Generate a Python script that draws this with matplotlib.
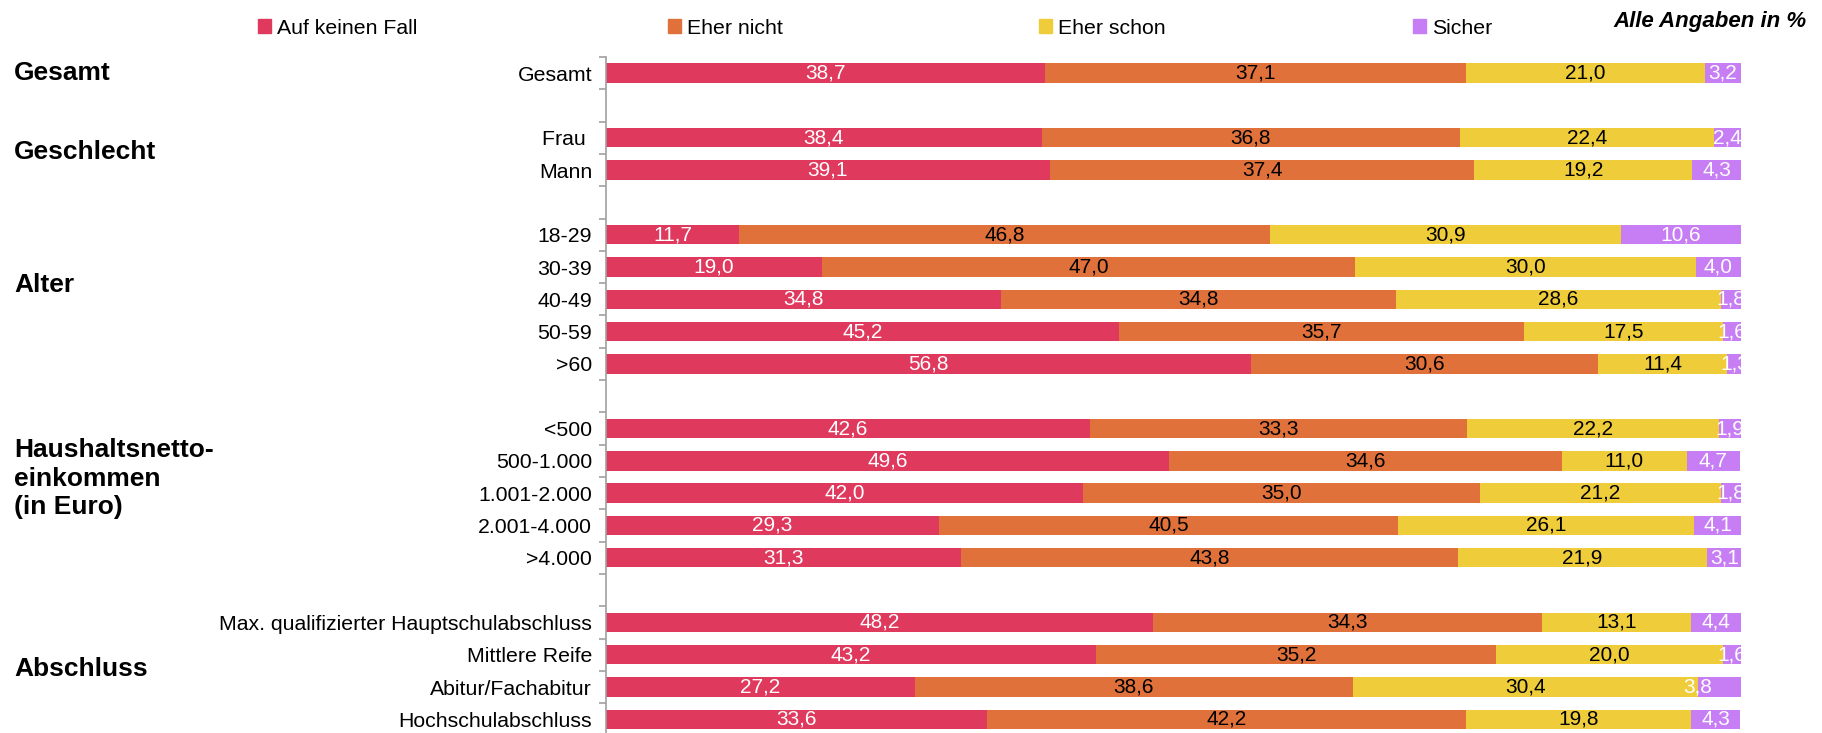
import numpy as np
import matplotlib.pyplot as plt
from matplotlib.patches import Patch
from matplotlib.ticker import FixedLocator
from matplotlib.transforms import blended_transform_factory

plt.rcParams['font.family'] = ['Liberation Sans', 'DejaVu Sans']

# categories (None = empty spacer row)
rows = ['Gesamt', None, 'Frau ', 'Mann', None,
        '18-29', '30-39', '40-49', '50-59', '>60', None,
        '<500', '500-1.000', '1.001-2.000', '2.001-4.000', '>4.000', None,
        'Max. qualifizierter Hauptschulabschluss', 'Mittlere Reife',
        'Abitur/Fachabitur', 'Hochschulabschluss']

series = ['Auf keinen Fall', 'Eher nicht', 'Eher schon', 'Sicher']
colors = ['#E0395E', '#E0713A', '#EFCD3A', '#C77DF3']
text_colors = ['white', 'black', 'black', 'white']

auf_keinen_fall = [38.7, 38.4, 39.1, 11.7, 19.0, 34.8, 45.2, 56.8,
                   42.6, 49.6, 42.0, 29.3, 31.3, 48.2, 43.2, 27.2, 33.6]
eher_nicht = [37.1, 36.8, 37.4, 46.8, 47.0, 34.8, 35.7, 30.6,
              33.3, 34.6, 35.0, 40.5, 43.8, 34.3, 35.2, 38.6, 42.2]
eher_schon = [21.0, 22.4, 19.2, 30.9, 30.0, 28.6, 17.5, 11.4,
              22.2, 11.0, 21.2, 26.1, 21.9, 13.1, 20.0, 30.4, 19.8]
sicher = [3.2, 2.4, 4.3, 10.6, 4.0, 1.8, 1.6, 1.3,
          1.9, 4.7, 1.8, 4.1, 3.1, 4.4, 1.6, 3.8, 4.3]

groups = ['Gesamt', 'Geschlecht', 'Alter', 'Haushaltsnetto-\neinkommen\n(in Euro)', 'Abschluss']
group_pos = [0, 2.45, 6.55, 12.55, 18.45]

values = np.array([auf_keinen_fall, eher_nicht, eher_schon, sicher])
ypos = [i for i, r in enumerate(rows) if r is not None]
labels = [r for r in rows if r is not None]

W, H = 1822, 733
fig = plt.figure(figsize=(W / 100, H / 100), dpi=100)
ax = fig.add_axes([606 / W, -2.5 / H, 1135 / W, 678.5 / H])

left = np.zeros(len(ypos))
for k in range(4):
    ax.barh(ypos, values[k], left=left, height=0.6, color=colors[k],
            edgecolor='none')
    for j, (y, v) in enumerate(zip(ypos, values[k])):
        x = left[j] + v / 2
        # label of Abitur "Sicher" sits at the segment start in the original
        if k == 3 and labels[j] == 'Abitur/Fachabitur':
            x = left[j]
        ax.text(x, y, f'{v:.1f}'.replace('.', ','), ha='center', va='center',
                color=text_colors[k], fontsize=15, clip_on=True)
    left += values[k]

ax.set_xlim(0, 100)
ax.set_ylim(len(rows) - 0.5, -0.5)
ax.set_yticks(ypos)
ax.set_yticklabels(labels, fontsize=15.3)
ax.tick_params(axis='y', which='major', length=0, pad=10)
ax.yaxis.set_minor_locator(FixedLocator(np.arange(-0.5, len(rows), 1)))
ax.tick_params(axis='y', which='minor', length=5, color='#A0A0A0', width=1.2)
ax.set_xticks([])
for s in ['top', 'right', 'bottom']:
    ax.spines[s].set_visible(False)
ax.spines['left'].set_color('#A0A0A0')
ax.spines['left'].set_linewidth(1.2)

trans = blended_transform_factory(fig.transFigure, ax.transData)
for g, gy in zip(groups, group_pos):
    ax.text(14 / W, gy, g, transform=trans, fontsize=19, fontweight='bold',
            ha='left', va='center', linespacing=1.25)

leg_x = [258, 668, 1039, 1413]
for name, c, lx in zip(series, colors, leg_x):
    fig.legend(handles=[Patch(color=c)], labels=[name], loc='center left',
               bbox_to_anchor=(lx / W, 1 - 28 / H), frameon=False, fontsize=15.3,
               handlelength=0.6, handleheight=0.6, handletextpad=0.3,
               borderpad=0, borderaxespad=0)

fig.text(1807 / W, 1 - 21 / H, 'Alle Angaben in %', ha='right', va='center',
         fontsize=16, fontweight='bold', fontstyle='italic')

fig.savefig('out.png', dpi=100)
